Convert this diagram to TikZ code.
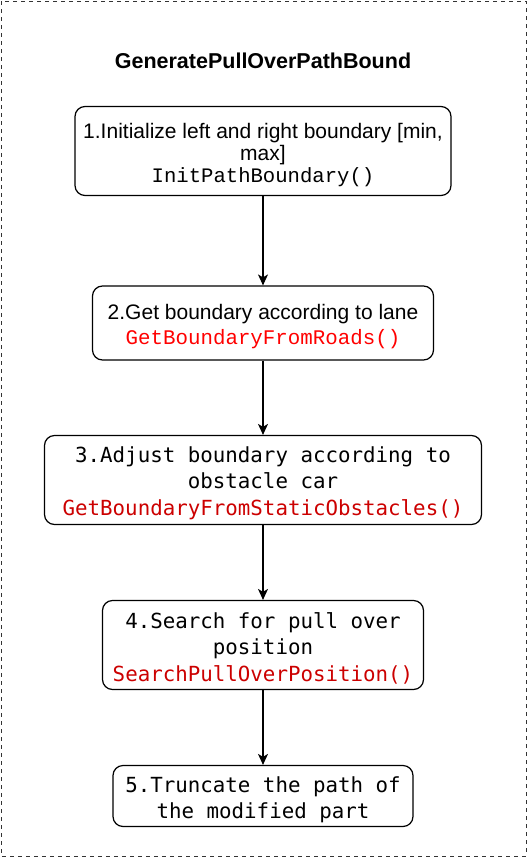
\documentclass[tikz,border=0pt]{standalone}
\usepackage{fontspec}
\setmainfont{Liberation Sans}
\newfontfamily\courierfont{Liberation Mono}
\newfontfamily\dvmono{DejaVu Sans Mono}
\usetikzlibrary{arrows.meta}
\definecolor{codered}{HTML}{FF0000}
\definecolor{darkcodered}{HTML}{CC0000}
\definecolor{framegray}{HTML}{333333}
\tikzset{
  stepbox/.style={draw=black, line width=1.2pt, rounded corners=10pt, fill=white,
    inner sep=0pt},
  steptext/.style={inner sep=0pt, align=center},
  flowarrow/.style={draw=black, line width=1.2pt, -{Stealth[length=11pt,width=10pt,inset=3pt]}},
}
\begin{document}
\begin{tikzpicture}[x=1pt,y=-1pt]
  \useasboundingbox (0,0) rectangle (527,857);
  \draw[framegray, line width=1pt, dash pattern=on 4pt off 4pt] (1,1) rectangle (526,856);
  \node[font=\bfseries\fontsize{21.5}{24}\selectfont] (title) at (263,61) {GeneratePullOverPathBound};

  \node[stepbox, minimum width=376pt, minimum height=89pt] (b1) at (263,151) {};
  \node[steptext, font=\fontsize{21}{22}\selectfont] (b1t) at ([yshift=-4pt]b1.center)
    {1.Initialize left and right boundary [min,\\ max]\\ {\courierfont\fontsize{20.6}{22}\selectfont InitPathBoundary()}};

  \node[stepbox, minimum width=341pt, minimum height=74pt] (b2) at (263,323) {};
  \node[steptext, font=\fontsize{21}{25}\selectfont] (b2t) at ([yshift=-4pt]b2.center)
    {2.Get boundary according to lane\\ {\courierfont\fontsize{20.8}{25}\selectfont\color{codered}GetBoundaryFromRoads()}};

  \node[stepbox, minimum width=437pt, minimum height=89pt] (b3) at (263,480) {};
  \node[steptext, font=\dvmono\fontsize{20.8}{26.5}\selectfont] (b3t) at ([yshift=-3pt]b3.center)
    {3.Adjust boundary according to\\ obstacle car\\ {\color{darkcodered}GetBoundaryFromStaticObstacles()}};

  \node[stepbox, minimum width=321pt, minimum height=89pt] (b4) at (263,645) {};
  \node[steptext, font=\dvmono\fontsize{20.8}{26.5}\selectfont] (b4t) at ([yshift=-3pt]b4.center)
    {4.Search for pull over\\ position\\ {\color{darkcodered}SearchPullOverPosition()}};

  \node[stepbox, minimum width=300pt, minimum height=61pt] (b5) at (263,796) {};
  \node[steptext, font=\dvmono\fontsize{20.8}{25.5}\selectfont] (b5t) at ([yshift=-4pt]b5.center)
    {5.Truncate the path of\\ the modified part};

  \draw[flowarrow] (b1.south) -- (b2.north);
  \draw[flowarrow] (b2.south) -- (b3.north);
  \draw[flowarrow] (b3.south) -- (b4.north);
  \draw[flowarrow] (b4.south) -- (b5.north);
\end{tikzpicture}
\end{document}
